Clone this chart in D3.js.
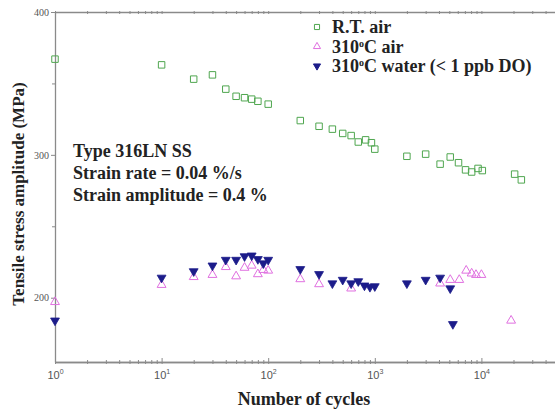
<!DOCTYPE html>
<html>
<head>
<meta charset="utf-8">
<script src="https://cdn.jsdelivr.net/npm/d3@7"></script>
<style>
body { margin:0; background:#fff; }
svg { display:block; font-family:"Liberation Serif","Times New Roman",serif; }
</style>
</head>
<body>
<svg></svg>
<script>
var width = 555,
	height = 412;

// R.T. air
var rtCycles = [1, 10, 20, 30, 40, 50, 60, 70, 80, 100, 200, 300, 400, 500, 600, 700, 820, 930, 1000, 2000, 3000, 4100, 5100, 6100, 7100, 8100, 9300, 10200, 20500, 23700];
var rtStress = [367, 363, 353, 356, 346, 341, 340, 339, 337.5, 335.5, 324, 320, 318, 315, 313.5, 309, 310.5, 308.5, 304, 299, 300.5, 293.5, 298.5, 294.5, 289.5, 288, 290.5, 289, 286.5, 282.5];

// 310C air
var airCycles = [1, 10, 20, 30, 40, 50, 60, 70, 80, 90, 100, 200, 300, 600, 4100, 5100, 6200, 7200, 8100, 8900, 10000, 19000];
var airStress = [197, 209, 214.5, 216, 221.5, 215, 221, 222.5, 216.5, 219.5, 219, 213, 209.5, 206.5, 210, 212.5, 212.5, 219, 217, 216, 216, 184];

// 310C water (< 1 ppb DO)
var wCycles = [1, 10, 20, 30, 40, 50, 60, 70, 80, 90, 100, 200, 300, 400, 500, 600, 700, 800, 900, 1000, 2000, 3000, 4100, 5100, 5400];
var wStress = [184, 214, 218.5, 222.5, 226.5, 226.5, 229, 229.5, 227, 224, 226.5, 220, 216.5, 210, 212.5, 210, 211.5, 208.5, 207.5, 208, 210, 212.5, 214, 206.5, 181.5];

var yTicks = [200, 300, 400];
var yMinor = [250, 350];
var xDecades = [1, 10, 100, 1000, 10000, 100000];
var xLabelled = [1, 10, 100, 1000, 10000];

var svg = d3.select("svg")
			.attr("width", width)
			.attr("height", height);

var x = d3.scaleLog()
		.domain([1, 1e5])
		.range([55, 588]);
var y = d3.scaleLinear()
		.domain([155, 400])
		.range([362, 12]);

var axisColor = "#8a8a8a";

// log minor ticks
var xMinor = [];
xDecades.slice(0, -1).forEach(function(d) {
	for (var k = 2; k < 10; k++) xMinor.push(d * k);
});

function styleAxis(g) {
	g.select(".domain").attr("stroke", axisColor).attr("stroke-width", 1.3);
	g.selectAll(".tick line").attr("stroke", axisColor);
}

// bottom axis
var xb = svg.append("g")
	.attr("transform", "translate(0," + y.range()[0] + ")")
	.call(d3.axisBottom(x).tickValues(xDecades).tickSize(4).tickSizeOuter(0).tickFormat(""));
styleAxis(xb);
xb.selectAll(".tick line").attr("y1", -4).attr("y2", 2);
xb.selectAll(".tick").filter(function(d) { return xLabelled.indexOf(d) >= 0; })
	.append("text")
	.attr("y", 17)
	.attr("fill", "#555")
	.style("font-size", "11px")
	.attr("text-anchor", "middle")
	.each(function(d) {
		var t = d3.select(this);
		t.append("tspan").text("10");
		t.append("tspan").attr("dy", -5).style("font-size", "7px").text(Math.round(Math.log10(d)));
	});
var xbm = svg.append("g")
	.attr("transform", "translate(0," + y.range()[0] + ")")
	.call(d3.axisBottom(x).tickValues(xMinor).tickSize(2).tickSizeOuter(0).tickFormat(""));
styleAxis(xbm);
xbm.selectAll(".tick line").attr("y1", -2).attr("y2", 2);

// top axis
var xt = svg.append("g")
	.attr("transform", "translate(0," + y.range()[1] + ")")
	.call(d3.axisTop(x).tickValues(xDecades.concat(xMinor)).tickSize(3).tickSizeOuter(0).tickFormat(""));
styleAxis(xt);
xt.selectAll(".tick line").attr("y1", 2).attr("y2", -1);

// left axis
var yl = svg.append("g")
	.attr("transform", "translate(" + x.range()[0] + ",0)")
	.call(d3.axisLeft(y).tickValues(yTicks).tickSize(4).tickSizeOuter(0).tickPadding(2));
styleAxis(yl);
yl.selectAll(".tick text").attr("fill", "#555").style("font-size", "10px").style("font-family", "Liberation Serif, serif");
var ylm = svg.append("g")
	.attr("transform", "translate(" + x.range()[0] + ",0)")
	.call(d3.axisLeft(y).tickValues(yMinor).tickSize(3).tickSizeOuter(0).tickFormat(""));
styleAxis(ylm);
ylm.select(".domain").remove();

// axis titles
svg.append("text")
	.attr("x", 304).attr("y", 405)
	.attr("text-anchor", "middle")
	.style("font-size", "18px").style("font-weight", "bold")
	.attr("fill", "#222")
	.text("Number of cycles");
svg.append("text")
	.attr("transform", "translate(24,194) rotate(-90)")
	.attr("text-anchor", "middle")
	.style("font-size", "17px").style("font-weight", "bold")
	.attr("fill", "#222")
	.text("Tensile stress amplitude (MPa)");

// annotation
var notes = ["Type 316LN SS", "Strain rate = 0.04 %/s", "Strain amplitude = 0.4 %"];
svg.append("g").selectAll("text")
	.data(notes)
	.enter()
	.append("text")
	.attr("x", 73)
	.attr("y", function(d, i) { return 157 + i * 22; })
	.style("font-size", "18px").style("font-weight", "bold")
	.attr("fill", "#222")
	.text(function(d) { return d; });

// markers
var sq = d3.symbol().type(d3.symbolSquare).size(42);
var tri = d3.symbol().type(d3.symbolTriangle).size(34);

var plot = svg.append("g");

plot.selectAll(".rt")
	.data(d3.zip(rtCycles, rtStress))
	.enter()
	.append("path")
	.attr("d", sq)
	.attr("transform", function(d) { return "translate(" + x(d[0]) + "," + y(d[1]) + ")"; })
	.attr("fill", "none")
	.attr("stroke", "#4fa64f")
	.attr("stroke-width", 1);

plot.selectAll(".air")
	.data(d3.zip(airCycles, airStress))
	.enter()
	.append("path")
	.attr("d", tri)
	.attr("transform", function(d) { return "translate(" + x(d[0]) + "," + y(d[1]) + ")"; })
	.attr("fill", "none")
	.attr("stroke", "#e070e0")
	.attr("stroke-width", 1);

plot.selectAll(".water")
	.data(d3.zip(wCycles, wStress))
	.enter()
	.append("path")
	.attr("d", tri)
	.attr("transform", function(d) { return "translate(" + x(d[0]) + "," + y(d[1]) + ") rotate(180)"; })
	.attr("fill", "#1c1c8a")
	.attr("stroke", "#1c1c8a")
	.attr("stroke-width", 0.8);

// legend
var legend = svg.append("g").attr("transform", "translate(317,27)");
var items = [
	{ name: ["R.T. air"], sym: sq, fill: "none", stroke: "#4fa64f", rot: 0 },
	{ name: ["310", "o", "C air"], sym: tri, fill: "none", stroke: "#e070e0", rot: 0 },
	{ name: ["310", "o", "C water (< 1 ppb DO)"], sym: tri, fill: "#1c1c8a", stroke: "#1c1c8a", rot: 180 }
];
items.forEach(function(it, i) {
	var g = legend.append("g").attr("transform", "translate(0," + (i * 19.5) + ")");
	g.append("path")
		.attr("d", it.sym.size(it.sym === sq ? 26 : 22))
		.attr("transform", "rotate(" + it.rot + ")")
		.attr("fill", it.fill)
		.attr("stroke", it.stroke);
	var t = g.append("text")
		.attr("x", 15).attr("y", 6)
		.style("font-size", "18px").style("font-weight", "bold")
		.attr("fill", "#222");
	t.append("tspan").text(it.name[0]);
	if (it.name.length > 1) {
		t.append("tspan").attr("dy", -6).style("font-size", "10px").text(it.name[1]);
		t.append("tspan").attr("dy", 6).text(it.name[2]);
	}
});
</script>
</body>
</html>
